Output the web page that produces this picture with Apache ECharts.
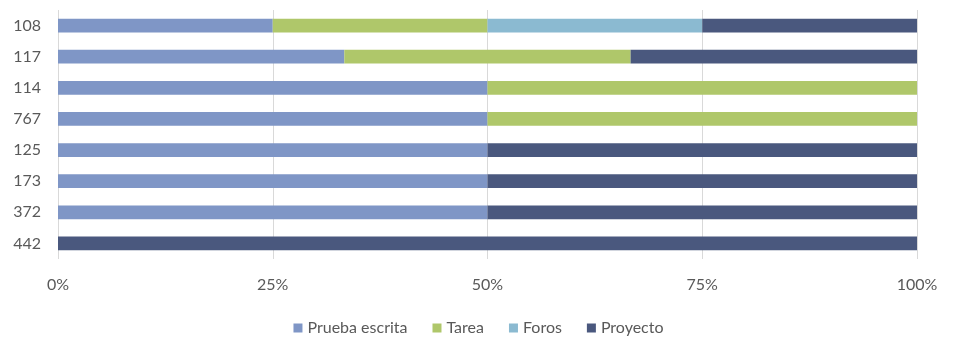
<!DOCTYPE html>
<html>
<head>
<meta charset="utf-8">
<script src="https://cdn.jsdelivr.net/npm/echarts@6/dist/echarts.min.js"></script>
<style>
  html, body { margin: 0; padding: 0; background: #fff; }
  #chart { width: 957px; height: 351px; }
</style>
</head>
<body>
<div id="chart"></div>
<script>
// categories, top to bottom
const categories = ['108', '117', '114', '767', '125', '173', '372', '442'];

// percent share per category
const pruebaEscrita = [25, 33.33, 50, 50, 50, 50, 50, 0];
const tarea         = [25, 33.33, 50, 50, 0, 0, 0, 0];
const foros         = [25, 0, 0, 0, 0, 0, 0, 0];
const proyecto      = [25, 33.34, 0, 0, 50, 50, 50, 100];

const seriesNames = ['Prueba escrita', 'Tarea', 'Foros', 'Proyecto'];
const colors = ['#7F96C6', '#AFC76A', '#8BBAD1', '#4A587E'];

const chart = echarts.init(document.getElementById('chart'));
const font = 'Lato, "Open Sans", sans-serif';

function bar(name, data, color) {
  return {
    name: name,
    type: 'bar',
    stack: 'total',
    data: data,
    barWidth: '44%',
    itemStyle: { color: color },
    emphasis: { disabled: true }
  };
}

const option = {
  animation: false,
  textStyle: { fontFamily: font },
  grid: { left: 58, right: 40, top: 10, bottom: 92, containLabel: false },
  xAxis: {
    type: 'value',
    min: 0,
    max: 100,
    interval: 25,
    axisLine: { show: false },
    axisTick: { show: false },
    axisLabel: { formatter: '{value}%', color: '#595959', fontSize: 16, margin: 18, fontFamily: font },
    splitLine: { lineStyle: { color: '#D9D9D9', width: 1 } }
  },
  yAxis: {
    type: 'category',
    inverse: true,
    data: categories,
    axisLine: { show: false },
    axisTick: { show: false },
    axisLabel: { color: '#595959', fontSize: 16, margin: 17, fontFamily: font }
  },
  legend: {
    bottom: 10,
    left: 'center',
    itemWidth: 9,
    itemHeight: 9,
    itemGap: 25,
    icon: 'rect',
    textStyle: { color: '#595959', fontSize: 16, fontFamily: font },
    data: seriesNames
  },
  series: [
    bar(seriesNames[0], pruebaEscrita, colors[0]),
    bar(seriesNames[1], tarea, colors[1]),
    bar(seriesNames[2], foros, colors[2]),
    bar(seriesNames[3], proyecto, colors[3])
  ]
};

chart.setOption(option);
</script>
</body>
</html>
